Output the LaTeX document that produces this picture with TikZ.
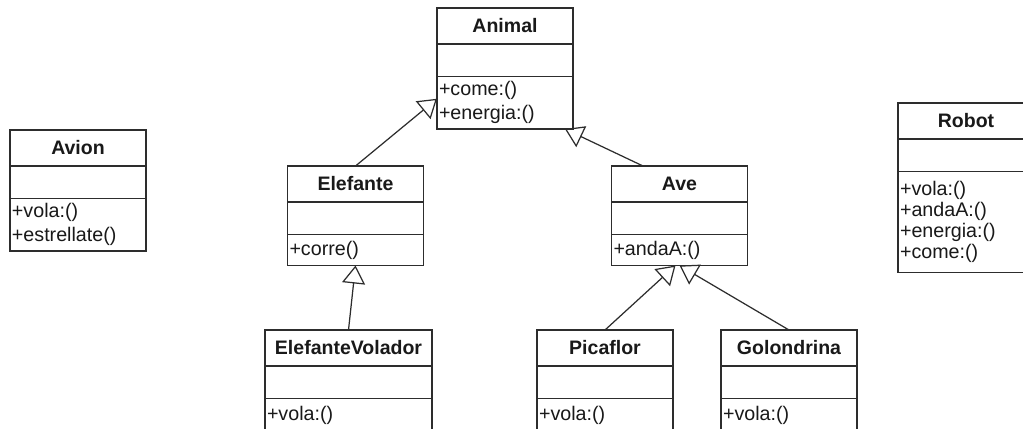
\documentclass[tikz,border=0pt]{standalone}
\usepackage{fontspec}
\setmainfont{Liberation Sans}
\usepackage{xcolor}
\definecolor{umlline}{RGB}{45,45,45}
\definecolor{umltext}{RGB}{25,25,25}
\usepackage{tikz}
\usetikzlibrary{arrows.meta, positioning, calc}

\tikzset{
  umlbox/.style={draw=umlline, line width=0.85pt, outer sep=0pt, inner xsep=0.04cm,
                 inner ysep=0pt, fill=white, text=umltext, text width=#1},
  umlbox/.default=2.64cm,
  classname/.style={umlbox=#1, minimum height=0.72cm, align=center,
                    font=\fontsize{11.1pt}{13pt}\selectfont\bfseries},
  classname/.default=2.64cm,
  classattr/.style={umlbox=#1, minimum height=0.65cm},
  classattr/.default=2.64cm,
  classops/.style={umlbox=#1, align=left, font=\fontsize{11.2pt}{11.95pt}\selectfont},
  classops/.default=2.64cm,
  inherit/.style={draw=umlline, line width=0.7pt, -{Triangle[open, length=0.36cm, width=0.46cm]}}
}

\begin{document}
\begin{tikzpicture}
\path[use as bounding box, fill=white] (0,0) rectangle (20.46,-8.56);

% ===== TOP ROW =====
% Avion
\node[classname, anchor=north] (avion) at (1.56,-2.60) {Avion};
\node[classattr, below=0pt of avion] (avionat) {};
\node[classops, minimum height=1.05cm, below=0pt of avionat] (avionop) {+vola:()\\[1.7pt]+estrellate()};

% Animal
\node[classname, anchor=north] (animal) at (10.10,-0.16) {Animal};
\node[classattr, below=0pt of animal] (animalat) {};
\node[classops, minimum height=1.05cm, below=0pt of animalat] (animalop) {+come:()\\[1.7pt]+energia:()};

% Robot
\node[classname, anchor=north] (robot) at (19.32,-2.06) {Robot};
\node[classattr, below=0pt of robot] (robotat) {};
\node[classops, minimum height=2.02cm, below=0pt of robotat] (robotop)
     {+vola:()\\+andaA:()\\+energia:()\\+come:()};

% ===== MIDDLE ROW =====
% Elefante
\node[classname, anchor=north] (elefante) at (7.11,-3.32) {Elefante};
\node[classattr, below=0pt of elefante] (elefanteat) {};
\node[classops, minimum height=0.62cm, below=0pt of elefanteat] (elefanteop) {+corre()};

% Ave
\node[classname, anchor=north] (ave) at (13.59,-3.32) {Ave};
\node[classattr, below=0pt of ave] (aveat) {};
\node[classops, minimum height=0.62cm, below=0pt of aveat] (aveop) {+andaA:()};

% ===== BOTTOM ROW =====
% ElefanteVolador
\node[classname=3.26cm, anchor=north] (volador) at (6.97,-6.60) {ElefanteVolador};
\node[classattr=3.26cm, below=0pt of volador] (voladorat) {};
\node[classops=3.26cm, minimum height=0.66cm, below=0pt of voladorat] (voladorop) {+vola:()};

% Picaflor
\node[classname, anchor=north] (picaflor) at (12.10,-6.60) {Picaflor};
\node[classattr, below=0pt of picaflor] (picaflorat) {};
\node[classops, minimum height=0.66cm, below=0pt of picaflorat] (picaflorop) {+vola:()};

% Golondrina
\node[classname, anchor=north] (golondrina) at (15.78,-6.60) {Golondrina};
\node[classattr, below=0pt of golondrina] (golondrinaat) {};
\node[classops, minimum height=0.66cm, below=0pt of golondrinaat] (golondrinaop) {+vola:()};

% ===== INHERITANCE =====
\draw[inherit] (elefante.north) -- ([yshift=0.08cm]animalop.west);
\draw[inherit] ([xshift=-0.73cm]ave.north) -- ([xshift=-0.16cm]animalop.south east);
\draw[inherit] (volador.north) -- (elefanteop.south);
\draw[inherit] (picaflor.north) -- ([xshift=-0.08cm]aveop.south);
\draw[inherit] (golondrina.north) -- (aveop.south);

\end{tikzpicture}
\end{document}
